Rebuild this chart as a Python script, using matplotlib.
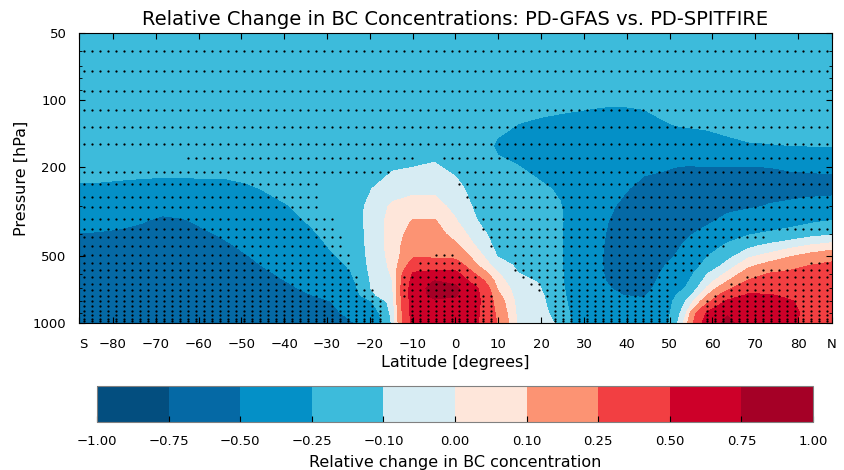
import numpy as np
import matplotlib
matplotlib.use("Agg")
import matplotlib.pyplot as plt
from matplotlib.colors import ListedColormap, BoundaryNorm
from matplotlib.ticker import NullFormatter

# pressure levels (hPa) of the field rows, top -> bottom
plev = [50, 100, 130, 160, 200, 250, 300, 350, 400, 450, 500, 550, 600, 650, 700, 750, 800, 900, 1000]

lats = [-87.9, -83.1, -78.2, -73.3, -68.4, -63.5, -58.6, -53.7, -48.9, -44.0, -39.1, -34.2,
        -29.3, -24.4, -19.5, -14.7, -9.8, -4.9, 0.0, 4.9, 9.8, 14.7, 19.5, 24.4, 29.3, 34.2,
        39.1, 44.0, 48.9, 53.7, 58.6, 63.5, 68.4, 73.3, 78.2, 83.1, 87.9]

# relative change in BC, one vertical profile per latitude (same order as plev)
profiles = [
    [-0.15, -0.16, -0.17, -0.18, -0.21, -0.27, -0.34, -0.42, -0.51, -0.57, -0.61, -0.63, -0.64, -0.65, -0.66, -0.66, -0.66, -0.66, -0.66],
    [-0.15, -0.16, -0.17, -0.18, -0.21, -0.27, -0.35, -0.43, -0.52, -0.58, -0.61, -0.63, -0.64, -0.65, -0.66, -0.66, -0.66, -0.66, -0.66],
    [-0.15, -0.16, -0.17, -0.18, -0.21, -0.28, -0.36, -0.45, -0.54, -0.59, -0.62, -0.64, -0.65, -0.66, -0.66, -0.66, -0.66, -0.66, -0.66],
    [-0.15, -0.16, -0.17, -0.18, -0.21, -0.29, -0.39, -0.49, -0.56, -0.60, -0.63, -0.64, -0.65, -0.66, -0.66, -0.66, -0.66, -0.66, -0.66],
    [-0.15, -0.16, -0.17, -0.18, -0.21, -0.30, -0.44, -0.54, -0.59, -0.62, -0.64, -0.65, -0.66, -0.66, -0.66, -0.66, -0.66, -0.66, -0.66],
    [-0.15, -0.16, -0.17, -0.18, -0.21, -0.30, -0.42, -0.52, -0.57, -0.61, -0.63, -0.64, -0.65, -0.66, -0.66, -0.66, -0.66, -0.66, -0.66],
    [-0.15, -0.16, -0.17, -0.18, -0.21, -0.29, -0.38, -0.46, -0.53, -0.58, -0.61, -0.63, -0.64, -0.65, -0.66, -0.66, -0.66, -0.66, -0.66],
    [-0.15, -0.16, -0.17, -0.18, -0.21, -0.29, -0.35, -0.41, -0.47, -0.53, -0.58, -0.61, -0.63, -0.64, -0.65, -0.65, -0.65, -0.65, -0.65],
    [-0.15, -0.16, -0.17, -0.18, -0.20, -0.27, -0.32, -0.37, -0.42, -0.46, -0.51, -0.55, -0.58, -0.60, -0.62, -0.62, -0.62, -0.62, -0.62],
    [-0.15, -0.16, -0.17, -0.17, -0.19, -0.24, -0.29, -0.33, -0.37, -0.41, -0.44, -0.48, -0.52, -0.55, -0.57, -0.59, -0.60, -0.60, -0.60],
    [-0.15, -0.16, -0.16, -0.17, -0.18, -0.21, -0.255, -0.29, -0.33, -0.36, -0.39, -0.43, -0.46, -0.495, -0.53, -0.55, -0.57, -0.58, -0.58],
    [-0.15, -0.16, -0.16, -0.17, -0.17, -0.19, -0.21, -0.24, -0.28, -0.31, -0.34, -0.37, -0.40, -0.43, -0.47, -0.51, -0.54, -0.56, -0.57],
    [-0.15, -0.16, -0.16, -0.16, -0.16, -0.16, -0.17, -0.19, -0.21, -0.24, -0.27, -0.31, -0.35, -0.38, -0.42, -0.46, -0.505, -0.55, -0.56],
    [-0.15, -0.16, -0.16, -0.16, -0.15, -0.15, -0.15, -0.16, -0.17, -0.18, -0.20, -0.23, -0.255, -0.29, -0.32, -0.35, -0.38, -0.45, -0.52],
    [-0.16, -0.16, -0.16, -0.15, -0.13, -0.10, -0.07, -0.06, -0.06, -0.06, -0.06, -0.06, -0.07, -0.08, -0.09, -0.12, -0.25, -0.35, -0.40],
    [-0.16, -0.16, -0.15, -0.14, -0.11, -0.05, 0.02, 0.04, 0.04, 0.04, 0.03, 0.02, 0.01, 0.00, -0.01, -0.02, -0.04, -0.06, -0.08],
    [-0.15, -0.15, -0.15, -0.14, -0.10, -0.02, 0.04, 0.11, 0.15, 0.19, 0.23, 0.35, 0.53, 0.60, 0.65, 0.65, 0.64, 0.62, 0.60],
    [-0.15, -0.15, -0.14, -0.13, -0.09, -0.02, 0.04, 0.11, 0.15, 0.19, 0.22, 0.35, 0.58, 0.76, 0.82, 0.80, 0.72, 0.65, 0.60],
    [-0.15, -0.15, -0.15, -0.14, -0.12, -0.07, -0.03, 0.01, 0.06, 0.12, 0.20, 0.35, 0.57, 0.70, 0.80, 0.77, 0.70, 0.62, 0.58],
    [-0.16, -0.16, -0.17, -0.17, -0.16, -0.14, -0.12, -0.095, -0.05, -0.01, 0.05, 0.105, 0.22, 0.38, 0.53, 0.57, 0.57, 0.55, 0.52],
    [-0.17, -0.18, -0.22, -0.27, -0.22, -0.19, -0.18, -0.17, -0.15, -0.13, -0.105, -0.05, 0.01, 0.05, 0.09, 0.13, 0.17, 0.21, 0.24],
    [-0.17, -0.20, -0.255, -0.31, -0.245, -0.20, -0.18, -0.17, -0.16, -0.15, -0.14, -0.12, -0.099, -0.08, -0.06, -0.05, -0.04, -0.03, -0.02],
    [-0.17, -0.21, -0.27, -0.33, -0.29, -0.22, -0.19, -0.18, -0.17, -0.16, -0.15, -0.14, -0.12, -0.105, -0.09, -0.07, -0.06, -0.05, -0.05],
    [-0.17, -0.22, -0.28, -0.34, -0.33, -0.27, -0.24, -0.23, -0.23, -0.23, -0.23, -0.23, -0.22, -0.22, -0.21, -0.20, -0.19, -0.16, -0.12],
    [-0.17, -0.22, -0.30, -0.36, -0.38, -0.36, -0.36, -0.37, -0.38, -0.39, -0.40, -0.40, -0.40, -0.40, -0.39, -0.38, -0.37, -0.36, -0.35],
    [-0.17, -0.23, -0.31, -0.37, -0.41, -0.43, -0.45, -0.47, -0.48, -0.49, -0.495, -0.495, -0.49, -0.48, -0.46, -0.43, -0.41, -0.39, -0.38],
    [-0.17, -0.23, -0.32, -0.38, -0.43, -0.48, -0.53, -0.57, -0.60, -0.61, -0.62, -0.62, -0.61, -0.59, -0.55, -0.50, -0.46, -0.42, -0.40],
    [-0.17, -0.22, -0.31, -0.39, -0.47, -0.55, -0.60, -0.63, -0.65, -0.66, -0.67, -0.67, -0.66, -0.63, -0.58, -0.52, -0.47, -0.42, -0.40],
    [-0.17, -0.21, -0.26, -0.38, -0.49, -0.56, -0.60, -0.62, -0.62, -0.60, -0.56, -0.505, -0.45, -0.41, -0.38, -0.35, -0.34, -0.33, -0.32],
    [-0.17, -0.20, -0.24, -0.36, -0.51, -0.56, -0.59, -0.58, -0.53, -0.475, -0.43, -0.38, -0.335, -0.29, -0.24, -0.17, -0.10, -0.02, 0.04],
    [-0.17, -0.20, -0.23, -0.33, -0.51, -0.57, -0.58, -0.53, -0.44, -0.35, -0.26, -0.20, -0.11, -0.05, 0.01, 0.09, 0.18, 0.51, 0.62],
    [-0.17, -0.19, -0.22, -0.28, -0.51, -0.56, -0.54, -0.45, -0.33, -0.22, -0.14, -0.06, 0.02, 0.10, 0.21, 0.36, 0.54, 0.73, 0.80],
    [-0.17, -0.19, -0.21, -0.26, -0.51, -0.55, -0.52, -0.39, -0.26, -0.13, -0.02, 0.07, 0.16, 0.27, 0.41, 0.53, 0.57, 0.62, 0.64],
    [-0.17, -0.19, -0.21, -0.255, -0.50, -0.55, -0.49, -0.35, -0.22, -0.07, 0.03, 0.14, 0.255, 0.33, 0.42, 0.51, 0.55, 0.57, 0.58],
    [-0.17, -0.19, -0.21, -0.25, -0.49, -0.55, -0.47, -0.32, -0.17, -0.03, 0.09, 0.19, 0.29, 0.36, 0.42, 0.47, 0.51, 0.53, 0.52],
    [-0.17, -0.19, -0.21, -0.245, -0.485, -0.55, -0.44, -0.27, -0.13, 0.01, 0.14, 0.25, 0.32, 0.37, 0.41, 0.43, 0.45, 0.46, 0.46],
    [-0.17, -0.19, -0.21, -0.24, -0.48, -0.55, -0.42, -0.24, -0.11, 0.04, 0.18, 0.29, 0.34, 0.38, 0.41, 0.43, 0.44, 0.45, 0.45],
]

levels = [-1.0, -0.75, -0.5, -0.25, -0.1, 0.0, 0.1, 0.25, 0.5, 0.75, 1.0]
colors = ["#034e7f", "#0569a5", "#0490c7", "#3dbbdb", "#d7ecf3",
          "#fee6da", "#fc9373", "#f23f42", "#cd0029", "#a50026"]

# stippling: model levels (hPa) and latitude spans where the change is significant
stip_p = [60, 74, 91, 111, 132, 157, 181, 210, 238, 271, 303, 340, 378, 413,
          450, 494, 537, 580, 624, 671, 713, 757, 799, 842, 880, 921, 957, 980]
full = [(-90, 90)]
stip_spans = [
    full, full, full, full, full, full,
    [(-62.7, -9.9), (-3.2, 90)],
    [(-90, -15.8), (0.6, 90)],
    [(-90, -32.4), (0.6, 90)],
    [(-90, -32.4), (2.2, 90)],
    [(-90, -31.0), (4.6, 90)],
    [(-90, -28.8), (6.2, 90)],
    [(-90, -28.8), (6.4, 90)],
    [(-90, -27.0), (7.4, 71.8)],
    [(-90, -27.0), (7.4, 64.1)],
    [(-90, -25.1), (-4.8, -0.8), (13.4, 60.6)],
    [(-90, -25.1), (-8.5, 1.1), (13.4, 57.1), (82.8, 90)],
    [(-90, -23.5), (-10.2, 2.9), (13.4, 55.5), (71.6, 90)],
    [(-90, -21.6), (-12.3, 6.4), (15.0, 53.1), (66.5, 90)],
    [(-90, -21.6), (-12.3, 6.4), (17.0, 51.7), (64.1, 90)],
    [(-90, -19.5), (-12.3, 6.4), (18.5, 50.6), (62.5, 90)],
    [(-90, -19.5), (-12.3, 8.5), (20.5, 49.7), (59.0, 90)],
    [(-90, -17.6), (-10.6, 8.5), (22.5, 49.7), (58.7, 90)],
    [(-90, -17.6), (-10.6, 8.5), (23.2, 49.7), (58.7, 90)],
    [(-90, -17.6), (-10.6, 8.5), (23.2, 49.7), (58.7, 90)],
    [(-90, -17.6), (-10.6, 8.5), (23.2, 49.7), (58.7, 90)],
    [(-90, -17.6), (-10.6, 8.5), (23.2, 49.7), (58.7, 90)],
    [(-90, -17.6), (-10.6, 8.5), (23.2, 49.7), (58.7, 90)],
]

xlim = (-87.9, 87.9)
lat_ticks = [-80, -70, -60, -50, -40, -30, -20, -10, 0, 10, 20, 30, 40, 50, 60, 70, 80]


def fmt(v, nd=0):
    s = "{:.{}f}".format(v, nd)
    return s.replace("-", "\u2212")


fig = plt.figure(figsize=(8.45, 4.7), dpi=100)
ax = fig.add_axes([79 / 845, 1 - 323 / 470, 753 / 845, 290 / 470])

field = np.array(profiles).T
cmap = ListedColormap(colors)
norm = BoundaryNorm(levels, cmap.N)
cf = ax.contourf(lats, plev, field, levels=levels, cmap=cmap, norm=norm)

# stipple dots on the T63 gaussian latitudes
glat = np.linspace(-88.57, 88.57, 96)
for p, spans in zip(stip_p, stip_spans):
    sel = np.zeros(glat.size, dtype=bool)
    for a, b in spans:
        sel |= (glat >= a) & (glat <= b)
    ax.scatter(glat[sel], np.full(sel.sum(), p), s=2.6, c="k", linewidths=0, zorder=3)

ax.set_yscale("log")
ax.set_ylim(1000, 50)
ax.set_xlim(*xlim)
ax.set_yticks([50, 100, 200, 500, 1000])
ax.set_yticklabels(["50", "100", "200", "500", "1000"])
ax.yaxis.set_minor_formatter(NullFormatter())

xt = [xlim[0]] + lat_ticks + [xlim[1]]
ax.set_xticks(xt)
ax.set_xticklabels(["S"] + [fmt(v) for v in lat_ticks] + ["N"])
ax.get_xticklabels()[0].set_horizontalalignment("left")

ax.tick_params(which="both", direction="in", top=True, right=True, labelsize=9.5)
ax.tick_params(which="major", length=4)
ax.tick_params(which="minor", length=2)
ax.tick_params(axis="x", which="major", pad=11)
ax.tick_params(axis="y", which="major", pad=9)

ax.set_xlabel("Latitude [degrees]", fontsize=11.5, labelpad=3)
ax.set_ylabel("Pressure [hPa]", fontsize=11.5, labelpad=3)
ax.set_title("Relative Change in BC Concentrations: PD-GFAS vs. PD-SPITFIRE", fontsize=14, pad=6)

cax = fig.add_axes([97 / 845, 1 - 422 / 470, 716 / 845, 36 / 470])
cb = fig.colorbar(cf, cax=cax, orientation="horizontal", ticks=levels)
cb.ax.set_xticklabels([fmt(v, 2) for v in levels])
cb.ax.tick_params(direction="in", length=4, labelsize=9.5, pad=9.5)
cb.outline.set_edgecolor("0.5")
cb.set_label("Relative change in BC concentration", fontsize=11.5, labelpad=5)

fig.savefig("out.png", dpi=100)
